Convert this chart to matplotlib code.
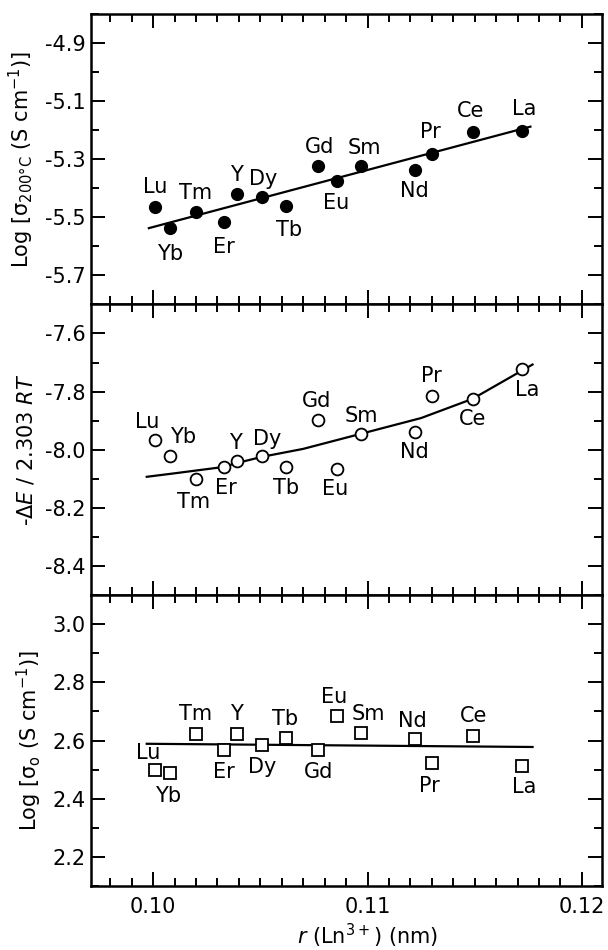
import matplotlib
matplotlib.use('Agg')
import matplotlib.pyplot as plt
from matplotlib.ticker import MultipleLocator, FixedLocator, NullFormatter

plt.rcParams['font.family'] = ['DejaVu Sans']
plt.rcParams['axes.unicode_minus'] = False
plt.rcParams['mathtext.fontset'] = 'dejavusans'

# ---------------- data ----------------
elements = ['Lu', 'Yb', 'Tm', 'Er', 'Y', 'Dy', 'Tb', 'Gd', 'Eu', 'Sm', 'Nd', 'Pr', 'Ce', 'La']
radius_nm = [0.1001, 0.1008, 0.1020, 0.1033, 0.1039, 0.1051, 0.1062,
             0.1077, 0.1086, 0.1097, 0.1122, 0.1130, 0.1149, 0.1172]

log_sigma_200 = [-5.467, -5.538, -5.483, -5.517, -5.421, -5.432, -5.463,
                 -5.326, -5.376, -5.324, -5.338, -5.283, -5.208, -5.205]
neg_dE = [-7.968, -8.023, -8.100, -8.061, -8.040, -8.020, -8.059,
          -7.898, -8.066, -7.945, -7.940, -7.814, -7.825, -7.724]
log_sigma_0 = [2.499, 2.488, 2.621, 2.566, 2.621, 2.586, 2.608,
               2.566, 2.686, 2.625, 2.606, 2.523, 2.615, 2.512]

fit_top_x = [0.0998, 0.1176]
fit_top_y = [-5.538, -5.189]
curve_mid_x = [0.0997, 0.1010, 0.1032, 0.1040, 0.1051, 0.1070, 0.1097, 0.1125, 0.1149, 0.1177]
curve_mid_y = [-8.093, -8.081, -8.060, -8.044, -8.024, -7.997, -7.945, -7.891, -7.825, -7.707]
fit_bot_x = [0.0997, 0.1177]
fit_bot_y = [2.589, 2.578]

x_ticks = [0.10, 0.11, 0.12]
x_tick_labels = ['0.10', '0.11', '0.12']
top_yticks = [-4.9, -5.1, -5.3, -5.5, -5.7]
mid_yticks = [-7.6, -7.8, -8.0, -8.2, -8.4]
bot_yticks = [3.0, 2.8, 2.6, 2.4, 2.2]

# label offsets (pixels, y up) – layout only
off_top = [(0, 20), (0, -26), (0, 19), (0, -25), (0, 19), (1, 18), (3, -24),
           (1, 19), (-1, -22), (3, 18), (0, -21), (-1, 22), (-2, 21), (2, 22)]
off_mid = [(-8, 18), (13, 19), (-2, -23), (2, -21), (-1, 18), (5, 17), (0, -21),
           (-2, 19), (-2, -20), (0, 18), (0, -20), (0, 20), (0, -20), (5, -21)]
off_bot = [(-7, 17), (-2, -23), (0, 20), (0, -22), (0, 20), (0, -22), (-1, 19),
           (0, -22), (-3, 19), (7, 19), (-2, 18), (-2, -23), (1, 20), (2, -21)]

# ---------------- figure ----------------
fig = plt.figure(figsize=(6.08, 9.5), dpi=100)
left, width = 91 / 608, (602 - 91) / 608
top_px, bot_px = 13.5, 886
h = (bot_px - top_px) / 3 / 950
axes = []
for i in range(3):
    b = 1 - (top_px / 950) - (i + 1) * h
    axes.append(fig.add_axes([left, b, width, h]))

FS = 15
for ax in axes:
    ax.set_xlim(0.0971, 0.12094)
    ax.xaxis.set_major_locator(FixedLocator(x_ticks))
    ax.xaxis.set_minor_locator(MultipleLocator(0.001))
    ax.yaxis.set_minor_locator(MultipleLocator(0.1))
    ax.tick_params(which='both', direction='in', top=True, right=True,
                   width=1.4, labelsize=FS)
    ax.tick_params(which='major', length=10)
    ax.tick_params(which='minor', length=5.5)
    ax.tick_params(axis='y', pad=4)
    ax.tick_params(axis='x', pad=8)
    for s in ax.spines.values():
        s.set_linewidth(1.8)

ax1, ax2, ax3 = axes

# top panel
ax1.set_ylim(-5.8, -4.8)
ax1.yaxis.set_major_locator(FixedLocator(top_yticks))
ax1.plot(fit_top_x, fit_top_y, color='black', lw=1.6, zorder=2)
ax1.plot(radius_nm, log_sigma_200, 'o', color='black', ms=8.5, zorder=3)
for el, x, y, (dx, dy) in zip(elements, radius_nm, log_sigma_200, off_top):
    ax1.annotate(el, (x, y), xytext=(dx, dy), textcoords='offset pixels',
                 ha='center', va='center', fontsize=FS)
ax1.set_ylabel(r'Log [σ$_{\mathrm{200°C}}$ (S cm$^{-1}$)]', fontsize=FS, labelpad=6)

# middle panel
ax2.set_ylim(-8.5, -7.5)
ax2.yaxis.set_major_locator(FixedLocator(mid_yticks))
ax2.plot(curve_mid_x, curve_mid_y, color='black', lw=1.6, zorder=2)
ax2.plot(radius_nm, neg_dE, 'o', mfc='white', mec='black', mew=1.3, ms=8.5, zorder=3)
for el, x, y, (dx, dy) in zip(elements, radius_nm, neg_dE, off_mid):
    ax2.annotate(el, (x, y), xytext=(dx, dy), textcoords='offset pixels',
                 ha='center', va='center', fontsize=FS)
ax2.set_ylabel(r'-$\Delta\mathit{E}$ / 2.303 $\mathit{RT}$', fontsize=FS, labelpad=6)

# bottom panel
ax3.set_ylim(2.1, 3.1)
ax3.yaxis.set_major_locator(FixedLocator(bot_yticks))
ax3.plot(fit_bot_x, fit_bot_y, color='black', lw=1.6, zorder=2)
ax3.plot(radius_nm, log_sigma_0, 's', mfc='white', mec='black', mew=1.3, ms=8.5, zorder=3)
for el, x, y, (dx, dy) in zip(elements, radius_nm, log_sigma_0, off_bot):
    ax3.annotate(el, (x, y), xytext=(dx, dy), textcoords='offset pixels',
                 ha='center', va='center', fontsize=FS)
ax3.set_ylabel(r'Log [σ$_{\mathrm{o}}$ (S cm$^{-1}$)]', fontsize=FS, labelpad=6)

for ax in (ax1, ax2):
    ax.xaxis.set_major_formatter(NullFormatter())
ax3.set_xticklabels(x_tick_labels)
ax3.set_xlabel(r'$\mathit{r}$ (Ln$^{3+}$) (nm)', fontsize=FS)
ax3.xaxis.set_label_coords(0.542, -0.122)

fig.savefig('out.png', dpi=100)
